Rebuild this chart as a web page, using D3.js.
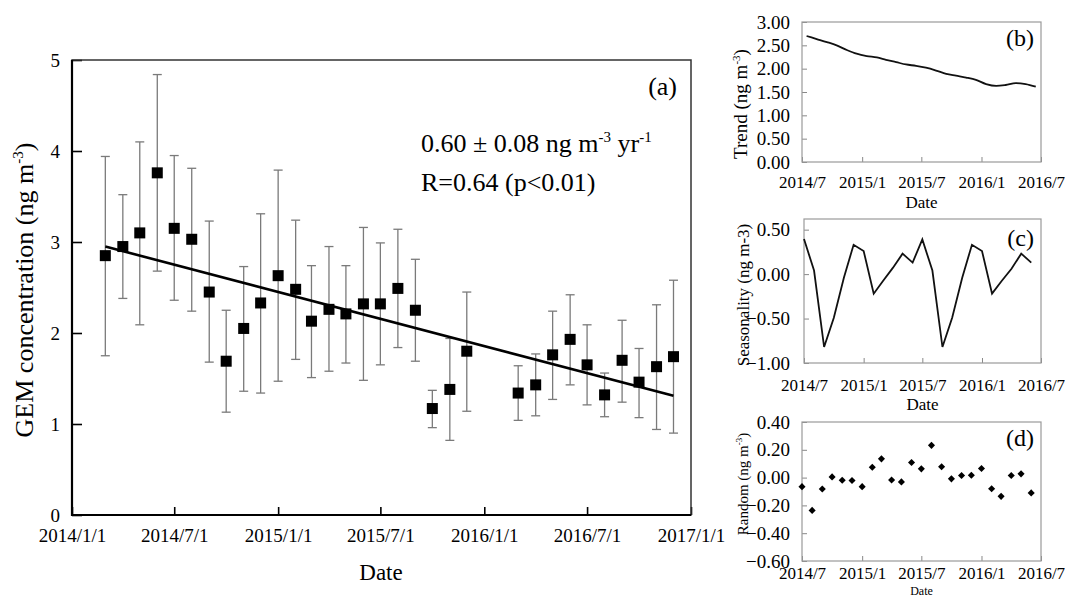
<!DOCTYPE html>
<html>
<head>
<meta charset="utf-8">
<script src="https://cdn.jsdelivr.net/npm/d3@7"></script>
<style>
    body { margin: 0; background: #fff; }
    svg text { font-family: "Liberation Serif", "Times New Roman", serif; fill: #000; }
</style>
</head>
<body>
<div id="chart"></div>
<script>
var parseMonth = d3.utcParse("%Y-%m");
var serif = "'Liberation Serif', 'Times New Roman', serif";

/* (a) monthly mean GEM with +/- 1 sd */
var gemMonths = ["2014-03", "2014-04", "2014-05", "2014-06", "2014-07", "2014-08", "2014-09", "2014-10",
    "2014-11", "2014-12", "2015-01", "2015-02", "2015-03", "2015-04", "2015-05", "2015-06", "2015-07",
    "2015-08", "2015-09", "2015-10", "2015-11", "2015-12", "2016-03", "2016-04", "2016-05", "2016-06",
    "2016-07", "2016-08", "2016-09", "2016-10", "2016-11", "2016-12"];
var gemMean = [2.85, 2.95, 3.10, 3.76, 3.15, 3.03, 2.45, 1.69, 2.05, 2.33, 2.63, 2.48, 2.13, 2.26, 2.21, 2.32,
    2.32, 2.49, 2.25, 1.17, 1.38, 1.80, 1.34, 1.43, 1.76, 1.93, 1.65, 1.32, 1.70, 1.46, 1.63, 1.74];
var gemHigh = [3.94, 3.52, 4.10, 4.84, 3.95, 3.81, 3.23, 2.25, 2.73, 3.31, 3.79, 3.24, 2.74, 2.95, 2.74, 3.16,
    2.99, 3.14, 2.81, 1.37, 1.94, 2.45, 1.64, 1.77, 2.24, 2.42, 2.09, 1.56, 2.14, 1.83, 2.31, 2.58];
var gemLow = [1.75, 2.38, 2.09, 2.68, 2.36, 2.24, 1.68, 1.13, 1.36, 1.34, 1.47, 1.71, 1.51, 1.58, 1.67, 1.48,
    1.65, 1.84, 1.69, 0.96, 0.82, 1.14, 1.04, 1.09, 1.27, 1.43, 1.21, 1.08, 1.24, 1.07, 0.94, 0.90];

// regression line end points
var fitMonths = ["2014-03", "2016-12"];
var fitValues = [2.95, 1.31];

var mainXTicks = ["2014-01", "2014-07", "2015-01", "2015-07", "2016-01", "2016-07", "2017-01"];
var mainYTicks = [0, 1, 2, 3, 4, 5];

/* (b)-(d) decomposition */
var compMonths = ["2014-07", "2014-08", "2014-09", "2014-10", "2014-11", "2014-12", "2015-01", "2015-02",
    "2015-03", "2015-04", "2015-05", "2015-06", "2015-07", "2015-08", "2015-09", "2015-10", "2015-11",
    "2015-12", "2016-01", "2016-02", "2016-03", "2016-04", "2016-05", "2016-06"];
var trendValues = [2.70, 2.635, 2.57, 2.50, 2.40, 2.32, 2.27, 2.24, 2.19, 2.14, 2.09, 2.06, 2.02, 1.96,
    1.89, 1.85, 1.81, 1.76, 1.67, 1.63, 1.65, 1.69, 1.67, 1.615];
var seasonValues = [0.395, 0.04, -0.82, -0.49, -0.04, 0.33, 0.26, -0.22, -0.08, 0.07, 0.23, 0.13, 0.39,
    0.04, -0.82, -0.49, -0.04, 0.33, 0.26, -0.22, -0.08, 0.06, 0.23, 0.13];
var randomValues = [-0.065, -0.236, -0.082, 0.005, -0.019, -0.021, -0.065, 0.075, 0.135, -0.017, -0.031,
    0.109, 0.063, 0.232, 0.078, -0.009, 0.015, 0.017, 0.065, -0.08, -0.135, 0.015, 0.027, -0.11];

var compXTicks = ["2014-07", "2015-01", "2015-07", "2016-01", "2016-07"];
var trendTicks = [0, 0.5, 1, 1.5, 2, 2.5, 3];
var seasonTicks = [-1, -0.5, 0, 0.5];
var randomTicks = [-0.6, -0.4, -0.2, 0, 0.2, 0.4];


var svg = d3.select("#chart").append("svg")
    .attr("width", 1065)
    .attr("height", 598);

/* ---------- panel (a) ---------- */
var main = {left: 72, right: 691, top: 60, bottom: 515};

var x = d3.scaleUtc()
    .domain([parseMonth("2014-01"), parseMonth("2017-01")])
    .range([main.left, main.right]);
var y = d3.scaleLinear()
    .domain([0, 5])
    .range([main.bottom, main.top]);

var gx = svg.append("g")
    .attr("transform", "translate(0," + main.bottom + ")")
    .call(d3.axisBottom(x)
        .tickValues(mainXTicks.map(parseMonth))
        .tickFormat(d3.utcFormat("%Y/%-m/%-d"))
        .tickSize(-8).tickSizeOuter(0).tickPadding(14));
gx.attr("font-family", serif);
gx.select(".domain").remove();
gx.selectAll("line").attr("stroke", "#000").attr("stroke-width", 1.6);
gx.selectAll("text").style("font-family", serif).style("font-size", "19px");

var gy = svg.append("g")
    .attr("transform", "translate(" + main.left + ",0)")
    .call(d3.axisLeft(y)
        .tickValues(mainYTicks)
        .tickFormat(d3.format("d"))
        .tickSize(-10).tickSizeOuter(0).tickPadding(12));
gy.attr("font-family", serif);
gy.select(".domain").remove();
gy.selectAll("line").attr("stroke", "#000").attr("stroke-width", 1.6);
gy.selectAll("text").style("font-family", serif).style("font-size", "19px");

// frame
svg.append("rect")
    .attr("x", main.left).attr("y", main.top)
    .attr("width", main.right - main.left).attr("height", main.bottom - main.top)
    .attr("fill", "none").attr("stroke", "#333").attr("stroke-width", 1.5);
svg.append("path")
    .attr("d", "M" + main.left + "," + main.top + "V" + main.bottom + "H" + main.right)
    .attr("fill", "none").attr("stroke", "#000").attr("stroke-width", 2.2);

var gem = gemMonths.map(function(m, i) {
    return {date: parseMonth(m), mean: gemMean[i], high: gemHigh[i], low: gemLow[i]};
});

// error bars
var err = svg.append("g").attr("stroke", "#7a7a7a").attr("stroke-width", 1.3);
err.selectAll(".bar").data(gem).enter().append("line")
    .attr("x1", function(d) { return x(d.date); })
    .attr("x2", function(d) { return x(d.date); })
    .attr("y1", function(d) { return y(d.low); })
    .attr("y2", function(d) { return y(d.high); });
err.selectAll(".capTop").data(gem).enter().append("line")
    .attr("x1", function(d) { return x(d.date) - 4.5; })
    .attr("x2", function(d) { return x(d.date) + 4.5; })
    .attr("y1", function(d) { return y(d.high); })
    .attr("y2", function(d) { return y(d.high); });
err.selectAll(".capBot").data(gem).enter().append("line")
    .attr("x1", function(d) { return x(d.date) - 4.5; })
    .attr("x2", function(d) { return x(d.date) + 4.5; })
    .attr("y1", function(d) { return y(d.low); })
    .attr("y2", function(d) { return y(d.low); });

// regression line
svg.append("path")
    .datum(fitMonths.map(function(m, i) { return {date: parseMonth(m), v: fitValues[i]}; }))
    .attr("fill", "none").attr("stroke", "#000").attr("stroke-width", 2.6)
    .attr("d", d3.line().x(function(d) { return x(d.date); }).y(function(d) { return y(d.v); }));

// squares
svg.append("g").selectAll("rect").data(gem).enter().append("rect")
    .attr("x", function(d) { return x(d.date) - 5.5; })
    .attr("y", function(d) { return y(d.mean) - 5.5; })
    .attr("width", 11).attr("height", 11)
    .attr("fill", "#000");

svg.append("text")
    .attr("x", 677).attr("y", 95)
    .attr("text-anchor", "end")
    .style("font-size", "26px")
    .text("(a)");

var eq = svg.append("text").attr("x", 421).attr("y", 152).style("font-size", "26px");
eq.append("tspan").text("0.60 \u00b1 0.08 ng m");
eq.append("tspan").attr("dy", -10).style("font-size", "15px").text("-3");
eq.append("tspan").attr("dy", 10).text(" yr");
eq.append("tspan").attr("dy", -10).style("font-size", "15px").text("-1");

svg.append("text").attr("x", 421).attr("y", 191).style("font-size", "26px")
    .text("R=0.64 (p<0.01)");

var yl = svg.append("text")
    .attr("transform", "translate(33,290) rotate(-90)")
    .attr("text-anchor", "middle")
    .style("font-size", "26px");
yl.append("tspan").text("GEM concentration (ng m");
yl.append("tspan").attr("dy", -10).style("font-size", "15px").text("-3");
yl.append("tspan").attr("dy", 10).text(")");

svg.append("text")
    .attr("x", 381).attr("y", 580)
    .attr("text-anchor", "middle")
    .style("font-size", "23px")
    .text("Date");


/* ---------- small panels ---------- */
function smallPanel(box, yDomain, yTicks, xPad, yPad, tag, tagY, dateY, dateSize) {
    var p = {};
    p.x = d3.scaleUtc()
        .domain([parseMonth("2014-07"), parseMonth("2016-07")])
        .range([box.left, box.right]);
    p.y = d3.scaleLinear().domain(yDomain).range([box.bottom, box.top]);

    var ax = svg.append("g")
        .attr("transform", "translate(0," + box.bottom + ")")
        .call(d3.axisBottom(p.x)
            .tickValues(compXTicks.map(parseMonth))
            .tickFormat(d3.utcFormat("%Y/%-m"))
            .tickSize(-5).tickSizeOuter(0).tickPadding(xPad));
    ax.attr("font-family", serif);
    ax.select(".domain").remove();
    ax.selectAll("line").attr("stroke", "#888");
    ax.selectAll("text").style("font-family", serif).style("font-size", "17px");

    var ay = svg.append("g")
        .attr("transform", "translate(" + box.left + ",0)")
        .call(d3.axisLeft(p.y)
            .tickValues(yTicks)
            .tickFormat(d3.format(".2f"))
            .tickSize(-5).tickSizeOuter(0).tickPadding(yPad));
    ay.attr("font-family", serif);
    ay.select(".domain").remove();
    ay.selectAll("line").attr("stroke", "#888");
    ay.selectAll("text").style("font-family", serif).style("font-size", "19px");

    svg.append("rect")
        .attr("x", box.left).attr("y", box.top)
        .attr("width", box.right - box.left).attr("height", box.bottom - box.top)
        .attr("fill", "none").attr("stroke", "#9a9a9a").attr("stroke-width", 1.2);

    svg.append("text")
        .attr("x", 1034).attr("y", tagY)
        .attr("text-anchor", "end")
        .style("font-size", "24px")
        .text(tag);

    svg.append("text")
        .attr("x", (box.left + box.right) / 2).attr("y", dateY)
        .attr("text-anchor", "middle")
        .style("font-size", dateSize + "px")
        .text("Date");
    return p;
}

var comp = compMonths.map(function(m, i) {
    return {date: parseMonth(m), trend: trendValues[i], season: seasonValues[i], random: randomValues[i]};
});

// (b) trend
var pb = smallPanel({left: 802, right: 1041, top: 22, bottom: 162}, [0, 3], trendTicks, 14, 12, "(b)", 46, 208, 17);
svg.append("path")
    .datum(comp)
    .attr("fill", "none").attr("stroke", "#111").attr("stroke-width", 1.8)
    .attr("d", d3.line()
        .curve(d3.curveMonotoneX)
        .x(function(d) { return pb.x(d3.utcDay.offset(d.date, 14)); })
        .y(function(d) { return pb.y(d.trend); }));

var tl = svg.append("text")
    .attr("transform", "translate(747,104) rotate(-90)")
    .attr("text-anchor", "middle")
    .style("font-size", "19px");
tl.append("tspan").text("Trend (ng m");
tl.append("tspan").attr("dy", -7).style("font-size", "11px").text("-3");
tl.append("tspan").attr("dy", 7).text(")");

// (c) seasonality
var pc = smallPanel({left: 804, right: 1041, top: 219, bottom: 363}, [-1, 0.62], seasonTicks, 16, 14, "(c)", 246, 410, 17);
svg.append("path")
    .datum(comp)
    .attr("fill", "none").attr("stroke", "#111").attr("stroke-width", 1.8)
    .attr("d", d3.line()
        .x(function(d) { return pc.x(d.date); })
        .y(function(d) { return pc.y(d.season); }));

svg.append("text")
    .attr("transform", "translate(749,295) rotate(-90)")
    .attr("text-anchor", "middle")
    .style("font-size", "17px")
    .text("Seasonality (ng m-3)");

// (d) random
var pd = smallPanel({left: 802, right: 1041, top: 422, bottom: 561}, [-0.6, 0.4], randomTicks, 6, 12, "(d)", 446, 594.5, 12);
svg.append("g").selectAll("path").data(comp).enter().append("path")
    .attr("transform", function(d) { return "translate(" + pd.x(d.date) + "," + pd.y(d.random) + ")"; })
    .attr("d", d3.symbol().type(d3.symbolDiamond2).size(32))
    .attr("fill", "#000");

var rl = svg.append("text")
    .attr("transform", "translate(748,484) rotate(-90)")
    .attr("text-anchor", "middle")
    .style("font-size", "15px");
rl.append("tspan").text("Random (ng m");
rl.append("tspan").attr("dy", -6).style("font-size", "9px").text("-3");
rl.append("tspan").attr("dy", 6).text(")");
</script>
</body>
</html>
